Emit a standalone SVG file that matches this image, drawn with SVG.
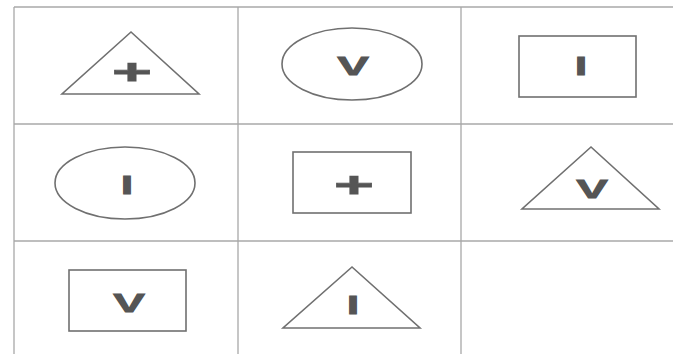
<svg xmlns="http://www.w3.org/2000/svg" width="673" height="354" viewBox="0 0 673 354">
<style>
.grid{stroke:#a8a8a8;stroke-width:1.3;fill:none}
.shape{stroke:#707070;stroke-width:1.6;fill:none}
.sym{font-family:"Liberation Sans",Arial,sans-serif;font-weight:bold;fill:#555555;stroke:#555555;stroke-width:0.8;text-anchor:middle}
.plus{font-size:36px}
.vee{font-size:25px}
.bar{font-size:25px}
</style>
<rect width="673" height="354" fill="#ffffff"/>
<g id="grid">
<line class="grid" x1="14" y1="7" x2="673" y2="7"/>
<line class="grid" x1="14" y1="124" x2="673" y2="124"/>
<line class="grid" x1="14" y1="241" x2="673" y2="241"/>
<line class="grid" x1="14" y1="7" x2="14" y2="354"/>
<line class="grid" x1="238" y1="7" x2="238" y2="354"/>
<line class="grid" x1="461" y1="7" x2="461" y2="354"/>
</g>
<g id="n1">
<polygon class="shape" points="131,32 62,94 199,94"/>
<text class="sym plus" transform="translate(132,84) scale(1.9,1)">+</text>
</g>
<g id="n2">
<ellipse class="shape" cx="352" cy="64" rx="70" ry="36"/>
<text class="sym vee" transform="translate(353,75) scale(1.9,1)">V</text>
</g>
<g id="n3">
<rect class="shape" x="519" y="36" width="117" height="61"/>
<text class="sym bar" transform="translate(581,75) scale(1.8,1)">I</text>
</g>
<g id="n4">
<ellipse class="shape" cx="125" cy="183" rx="70" ry="36"/>
<text class="sym bar" transform="translate(127,194) scale(1.8,1.05)">I</text>
</g>
<g id="n5">
<rect class="shape" x="293" y="152" width="118" height="61"/>
<text class="sym plus" transform="translate(354,197) scale(1.9,1)">+</text>
</g>
<g id="n6">
<polygon class="shape" points="591,147 522,209 659,209"/>
<text class="sym vee" transform="translate(592,198) scale(1.9,1)">V</text>
</g>
<g id="n7">
<rect class="shape" x="69" y="270" width="117" height="61"/>
<text class="sym vee" transform="translate(129,312) scale(1.9,1.05)">V</text>
</g>
<g id="n8">
<polygon class="shape" points="352,267 283,328 420,328"/>
<text class="sym bar" transform="translate(353,314) scale(1.8,1)">I</text>
</g>
<g id="connectors"></g>
</svg>
